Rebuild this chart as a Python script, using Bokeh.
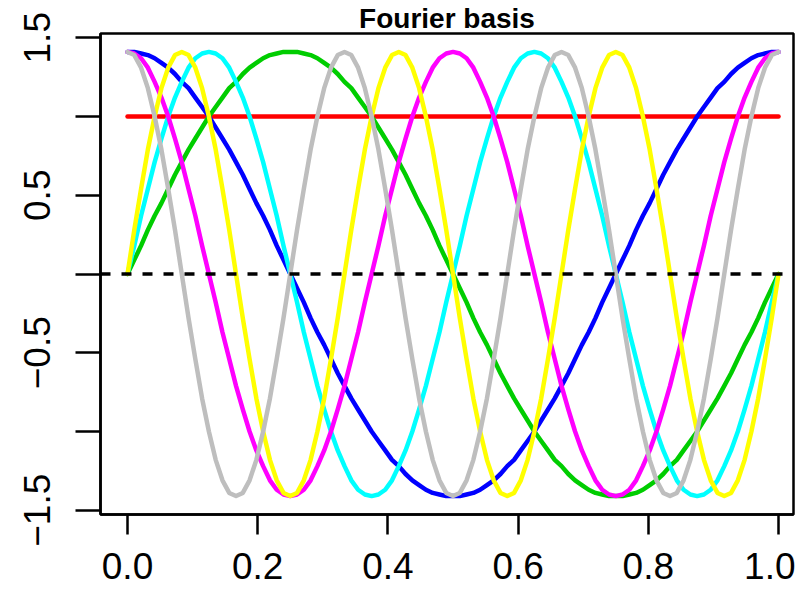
import numpy as np
from bokeh.plotting import figure
from bokeh.models import Range1d, FixedTicker, Span
from bokeh.embed import file_html
from bokeh.resources import INLINE

# ---- data ----
x = np.linspace(0.0, 1.0, 97)          # sample positions along the x axis

const_x = [0.0, 1.0]
const_y = [1.0, 1.0]

sin1 = [0.00, 0.09, 0.18, 0.28, 0.37, 0.45, 0.54, 0.63, 0.71, 0.79, 0.86, 0.93, 1.00, 1.06, 1.12, 1.18, 1.22, 1.27, 1.31, 1.34, 1.37, 1.39, 1.40, 1.41, 1.41,
        1.41, 1.40, 1.39, 1.37, 1.34, 1.31, 1.27, 1.22, 1.18, 1.12, 1.06, 1.00, 0.93, 0.86, 0.79, 0.71, 0.63, 0.54, 0.45, 0.37, 0.28, 0.18, 0.09, 0.00,
        -0.09, -0.18, -0.28, -0.37, -0.45, -0.54, -0.63, -0.71, -0.79, -0.86, -0.93, -1.00, -1.06, -1.12, -1.18, -1.22, -1.27, -1.31, -1.34, -1.37, -1.39, -1.40, -1.41, -1.41,
        -1.41, -1.40, -1.39, -1.37, -1.34, -1.31, -1.27, -1.22, -1.18, -1.12, -1.06, -1.00, -0.93, -0.86, -0.79, -0.71, -0.63, -0.54, -0.45, -0.37, -0.28, -0.18, -0.09, 0.00]

cos1 = [1.41, 1.41, 1.40, 1.39, 1.37, 1.34, 1.31, 1.27, 1.22, 1.18, 1.12, 1.06, 1.00, 0.93, 0.86, 0.79, 0.71, 0.63, 0.54, 0.45, 0.37, 0.28, 0.18, 0.09, 0.00,
        -0.09, -0.18, -0.28, -0.37, -0.45, -0.54, -0.63, -0.71, -0.79, -0.86, -0.93, -1.00, -1.06, -1.12, -1.18, -1.22, -1.27, -1.31, -1.34, -1.37, -1.39, -1.40, -1.41, -1.41,
        -1.41, -1.40, -1.39, -1.37, -1.34, -1.31, -1.27, -1.22, -1.18, -1.12, -1.06, -1.00, -0.93, -0.86, -0.79, -0.71, -0.63, -0.54, -0.45, -0.37, -0.28, -0.18, -0.09, 0.00,
        0.09, 0.18, 0.28, 0.37, 0.45, 0.54, 0.63, 0.71, 0.79, 0.86, 0.93, 1.00, 1.06, 1.12, 1.18, 1.22, 1.27, 1.31, 1.34, 1.37, 1.39, 1.40, 1.41, 1.41]

sin2 = [0.00, 0.18, 0.37, 0.54, 0.71, 0.86, 1.00, 1.12, 1.22, 1.31, 1.37, 1.40, 1.41,
        1.40, 1.37, 1.31, 1.22, 1.12, 1.00, 0.86, 0.71, 0.54, 0.37, 0.18, 0.00,
        -0.18, -0.37, -0.54, -0.71, -0.86, -1.00, -1.12, -1.22, -1.31, -1.37, -1.40, -1.41,
        -1.40, -1.37, -1.31, -1.22, -1.12, -1.00, -0.86, -0.71, -0.54, -0.37, -0.18, 0.00,
        0.18, 0.37, 0.54, 0.71, 0.86, 1.00, 1.12, 1.22, 1.31, 1.37, 1.40, 1.41,
        1.40, 1.37, 1.31, 1.22, 1.12, 1.00, 0.86, 0.71, 0.54, 0.37, 0.18, 0.00,
        -0.18, -0.37, -0.54, -0.71, -0.86, -1.00, -1.12, -1.22, -1.31, -1.37, -1.40, -1.41,
        -1.40, -1.37, -1.31, -1.22, -1.12, -1.00, -0.86, -0.71, -0.54, -0.37, -0.18, 0.00]

cos2 = [1.41,
        1.40, 1.37, 1.31, 1.22, 1.12, 1.00, 0.86, 0.71, 0.54, 0.37, 0.18, 0.00,
        -0.18, -0.37, -0.54, -0.71, -0.86, -1.00, -1.12, -1.22, -1.31, -1.37, -1.40, -1.41,
        -1.40, -1.37, -1.31, -1.22, -1.12, -1.00, -0.86, -0.71, -0.54, -0.37, -0.18, 0.00,
        0.18, 0.37, 0.54, 0.71, 0.86, 1.00, 1.12, 1.22, 1.31, 1.37, 1.40, 1.41,
        1.40, 1.37, 1.31, 1.22, 1.12, 1.00, 0.86, 0.71, 0.54, 0.37, 0.18, 0.00,
        -0.18, -0.37, -0.54, -0.71, -0.86, -1.00, -1.12, -1.22, -1.31, -1.37, -1.40, -1.41,
        -1.40, -1.37, -1.31, -1.22, -1.12, -1.00, -0.86, -0.71, -0.54, -0.37, -0.18, 0.00,
        0.18, 0.37, 0.54, 0.71, 0.86, 1.00, 1.12, 1.22, 1.31, 1.37, 1.40, 1.41]

sin3 = [0.00,
        0.28, 0.54, 0.79, 1.00, 1.18, 1.31, 1.39, 1.41, 1.39, 1.31, 1.18, 1.00, 0.79, 0.54, 0.28, 0.00,
        -0.28, -0.54, -0.79, -1.00, -1.18, -1.31, -1.39, -1.41, -1.39, -1.31, -1.18, -1.00, -0.79, -0.54, -0.28, 0.00,
        0.28, 0.54, 0.79, 1.00, 1.18, 1.31, 1.39, 1.41, 1.39, 1.31, 1.18, 1.00, 0.79, 0.54, 0.28, 0.00,
        -0.28, -0.54, -0.79, -1.00, -1.18, -1.31, -1.39, -1.41, -1.39, -1.31, -1.18, -1.00, -0.79, -0.54, -0.28, 0.00,
        0.28, 0.54, 0.79, 1.00, 1.18, 1.31, 1.39, 1.41, 1.39, 1.31, 1.18, 1.00, 0.79, 0.54, 0.28, 0.00,
        -0.28, -0.54, -0.79, -1.00, -1.18, -1.31, -1.39, -1.41, -1.39, -1.31, -1.18, -1.00, -0.79, -0.54, -0.28, 0.00]

cos3 = [1.41,
        1.39, 1.31, 1.18, 1.00, 0.79, 0.54, 0.28, 0.00, -0.28, -0.54, -0.79, -1.00, -1.18, -1.31, -1.39, -1.41,
        -1.39, -1.31, -1.18, -1.00, -0.79, -0.54, -0.28, 0.00, 0.28, 0.54, 0.79, 1.00, 1.18, 1.31, 1.39, 1.41,
        1.39, 1.31, 1.18, 1.00, 0.79, 0.54, 0.28, 0.00, -0.28, -0.54, -0.79, -1.00, -1.18, -1.31, -1.39, -1.41,
        -1.39, -1.31, -1.18, -1.00, -0.79, -0.54, -0.28, 0.00, 0.28, 0.54, 0.79, 1.00, 1.18, 1.31, 1.39, 1.41,
        1.39, 1.31, 1.18, 1.00, 0.79, 0.54, 0.28, 0.00, -0.28, -0.54, -0.79, -1.00, -1.18, -1.31, -1.39, -1.41,
        -1.39, -1.31, -1.18, -1.00, -0.79, -0.54, -0.28, 0.00, 0.28, 0.54, 0.79, 1.00, 1.18, 1.31, 1.39, 1.41]

series = [sin1, cos1, sin2, cos2, sin3, cos3]
series_colors = ["#00CD00", "#0000FF", "#00FFFF", "#FF00FF", "#FFFF00", "#BEBEBE"]
const_color = "#FF0000"

x_ticks = [0.0, 0.2, 0.4, 0.6, 0.8, 1.0]
x_tick_labels = ["0.0", "0.2", "0.4", "0.6", "0.8", "1.0"]
y_ticks = [-1.5, -1.0, -0.5, 0.0, 0.5, 1.0, 1.5]
y_tick_labels = ["\u22121.5", "", "\u22120.5", "", "0.5", "", "1.5"]
title_text = "Fourier basis"

FONT = "Liberation Sans"

# ---- figure ----
p = figure(width=795, height=594,
           x_range=Range1d(-0.0415, 1.023), y_range=Range1d(-1.527, 1.527),
           output_backend="svg", toolbar_location=None,
           min_border_left=100, min_border_right=2,
           min_border_top=0, min_border_bottom=80,
           background_fill_color="white", border_fill_color="white")

p.title.text = title_text
p.title.align = "center"
p.title.text_font = FONT
p.title.text_font_size = "28px"
p.title.text_font_style = "bold"
p.title.text_color = "black"
p.title.standoff = 0
p.title.offset = 0

p.xgrid.visible = False
p.ygrid.visible = False
p.outline_line_color = "black"
p.outline_line_width = 2.5
p.outline_line_alpha = 1.0

for ax in (p.xaxis[0], p.yaxis[0]):
    ax.axis_line_color = "black"
    ax.axis_line_width = 2.5
    ax.major_tick_line_color = "black"
    ax.major_tick_line_width = 2.5
    ax.major_tick_in = 0
    ax.minor_tick_in = 0
    ax.minor_tick_out = 0
    ax.major_label_text_font = FONT
    ax.major_label_text_font_size = "37px"
    ax.major_label_text_color = "black"

p.xaxis.ticker = FixedTicker(ticks=x_ticks)
p.xaxis.major_label_overrides = dict(zip(x_ticks, x_tick_labels))
p.xaxis.major_tick_out = 20
p.xaxis.major_label_standoff = 18

p.yaxis.ticker = FixedTicker(ticks=y_ticks)
p.yaxis.major_label_overrides = dict(zip(y_ticks, y_tick_labels))
p.yaxis.major_label_orientation = "vertical"
p.yaxis.major_tick_out = 25
p.yaxis.major_label_standoff = 25

# constant basis function
p.line(const_x, const_y, line_color=const_color, line_width=4.5, line_cap="round")

for ys, c in zip(series, series_colors):
    p.line(x, ys, line_color=c, line_width=4.5, line_cap="round", line_join="round")

p.add_layout(Span(location=0, dimension="width", line_color="black",
                  line_width=3.5, line_dash="10 11"))

open("out.html", "w").write(file_html(p, INLINE))
